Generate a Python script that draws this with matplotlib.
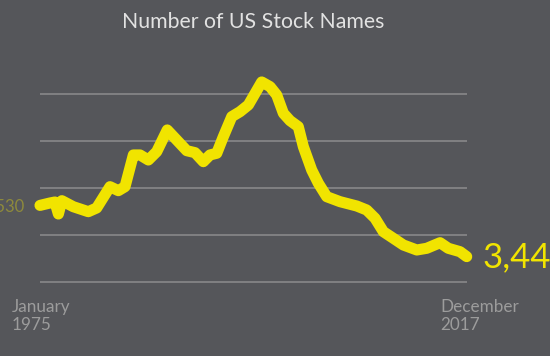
import numpy as np
import matplotlib
matplotlib.use("Agg")
import matplotlib.pyplot as plt

# data
years = [1975.0, 1976.0, 1976.5, 1976.85, 1977.2, 1978.35, 1979.86, 1980.7,
         1982.04, 1982.88, 1983.55, 1984.39, 1985.06, 1985.9, 1986.74, 1987.8,
         1988.75, 1989.76, 1990.59, 1991.43, 1992.1, 1992.78, 1993.44, 1994.29,
         1995.12, 1995.96, 1997.3, 1998.14, 1998.81, 1999.48, 2000.15, 2000.98,
         2001.49, 2002.33, 2003.0, 2003.84, 2005.18, 2006.86, 2007.86, 2008.7,
         2009.54, 2010.54, 2011.55, 2012.9, 2013.9, 2015.24, 2016.07, 2017.25,
         2017.92]
names = [4530, 4581, 4602, 4347, 4630, 4502, 4396, 4475,
         4928, 4843, 4928, 5603, 5603, 5496, 5673, 6135,
         5922, 5694, 5652, 5460, 5603, 5639, 5992, 6418,
         6524, 6667, 7156, 7056, 6879, 6490, 6333, 6205,
         5779, 5283, 5000, 4715, 4609, 4517, 4432, 4256,
         3970, 3830, 3687, 3581, 3617, 3736, 3617, 3545,
         3440]
grid_vals = [2900, 3900, 4900, 5900, 6900]

bg = '#55565a'
yellow = '#f1e400'

W, H = 550, 356
fig = plt.figure(figsize=(W / 100, H / 100), dpi=100, facecolor=bg)
ax = fig.add_axes([0, 0, 1, 1])
ax.set_facecolor(bg)

# pixel -> data mapping
yr_per_px = (2017.92 - 1975.0) / (466.7 - 40)
v_per_px = 1000 / 47
ax.set_xlim(1975.0 - 40 * yr_per_px, 1975.0 + (W - 40) * yr_per_px)
ax.set_ylim(2900 - (H - 282) * v_per_px, 2900 + 282 * v_per_px)
ax.axis('off')

ax.hlines(grid_vals, 1975.0, 1975.0 + 427 * yr_per_px, color='#8c8c8e', lw=1.1, zorder=1)
ax.plot(years, names, color=yellow, lw=8, solid_capstyle='round',
        solid_joinstyle='round', zorder=3)

font = 'Lato'
fig.text(253 / W, 1 - 22 / H, 'Number of US Stock Names', ha='center', va='center',
         fontsize=15.3, color='#e2e2e2', family=font)
fig.text(12 / W, 1 - 316 / H, 'January\n1975', ha='left', va='center',
         fontsize=12.3, color='#9c9c9c', family=font, linespacing=1.2)
fig.text(440 / W, 1 - 316 / H, 'December\n2017', ha='left', va='center',
         fontsize=12.3, color='#9c9c9c', family=font, linespacing=1.2)
fig.text(25 / W, 1 - 207 / H, '4,530', ha='right', va='center',
         fontsize=12, color='#8e8a3c', family=font)
fig.text(483 / W, 1 - 257 / H, '3,440', ha='left', va='center',
         fontsize=25, color=yellow, family=font)

fig.savefig('out.png', dpi=100, facecolor=bg)
